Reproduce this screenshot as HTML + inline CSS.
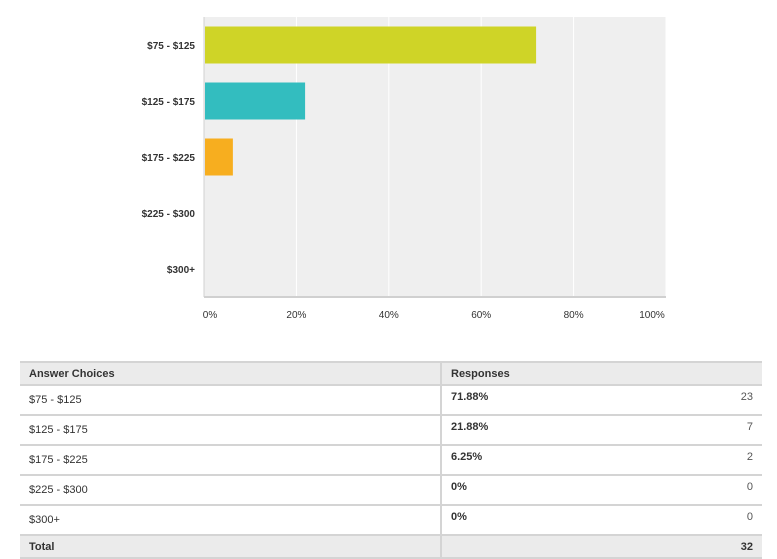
<!DOCTYPE html>
<html><head><meta charset="utf-8"><style>
body{margin:0;width:777px;height:554px;background:#fff;font-family:"Liberation Sans",Arial,sans-serif;position:relative;overflow:hidden}
svg{position:absolute;left:0;top:0}
table{position:absolute;left:20px;top:361px;width:742px;border-collapse:collapse;font-size:11px;color:#333}
td{border-top:2px solid #d4d4d4;border-bottom:2px solid #d4d4d4;height:23px;padding:0 9px;vertical-align:middle}
tr.h td,tr.t td{background:#ebebeb;font-weight:bold;height:21px}
td.c1{width:402px;border-right:2px solid #d4d4d4}
td.p{font-weight:bold;vertical-align:top;padding-top:5px}
td.n{text-align:right;vertical-align:top;padding-top:5px;color:#555}
</style></head><body>
<svg width="777" height="354" id="chart"></svg>
<table>
<tr class="h"><td class="c1">Answer Choices</td><td colspan="2">Responses</td></tr>
<tr><td class="c1">$75 - $125</td><td class="p">71.88%</td><td class="n">23</td></tr>
<tr><td class="c1">$125 - $175</td><td class="p">21.88%</td><td class="n">7</td></tr>
<tr><td class="c1">$175 - $225</td><td class="p">6.25%</td><td class="n">2</td></tr>
<tr><td class="c1">$225 - $300</td><td class="p">0%</td><td class="n">0</td></tr>
<tr><td class="c1">$300+</td><td class="p">0%</td><td class="n">0</td></tr>
<tr class="t"><td class="c1">Total</td><td></td><td style="text-align:right">32</td></tr>
</table>
<script>
const categories=["$75 - $125","$125 - $175","$175 - $225","$225 - $300","$300+"];
const values=[71.88,21.88,6.25,0,0];
const colors=["#cfd427","#33bdbf","#f7ae1f","#999","#999"];
const ticks=[0,20,40,60,80,100];
const tickLabels=["0%","20%","40%","60%","80%","100%"];
const NS="http://www.w3.org/2000/svg";
const svg=document.getElementById('chart');
const L=204,R=666,T=17,B=297;
const x=v=>L+(R-L)*v/100;
const band=(B-T)/categories.length;
const y=i=>T+band*i;
function mk(t,a){const e=document.createElementNS(NS,t);for(const k in a)e.setAttribute(k,a[k]);svg.appendChild(e);return e;}
const bg=mk('rect',{x:L,y:T,width:R-L,height:B-T,fill:'#efefef'});


ticks.forEach((t,i)=>{
 if(i>0){const g=mk('line',{x1:x(t),x2:x(t),y1:T,y2:B,stroke:'#fff','stroke-width':1});
 
 }
 const tx=mk('text',{x:x(t)+(i==0?6:i==5?-14:0),y:318,'text-anchor':'middle','font-size':10,fill:'#333'});
 tx.textContent=tickLabels[i];
 
 
});
const ax=mk('line',{x1:L,x2:R,y1:B,y2:B,stroke:'#d0d0d0','stroke-width':2});


const ay=mk('line',{x1:L,x2:L,y1:T,y2:B,stroke:'#d0d0d0','stroke-width':1});


categories.forEach((c,i)=>{
 const bh=37;
 const by=y(i)+(band-bh)/2;
 if(values[i]>0){const r=mk('rect',{x:L+1,y:by,width:x(values[i])-L-1,height:bh,fill:colors[i]});
 
 }
 const tl=mk('text',{x:195,y:y(i)+band/2+4,'text-anchor':'end','font-size':10,'font-weight':'bold',fill:'#333'});
 tl.textContent=c;
 
 
});
</script>
</body></html>
